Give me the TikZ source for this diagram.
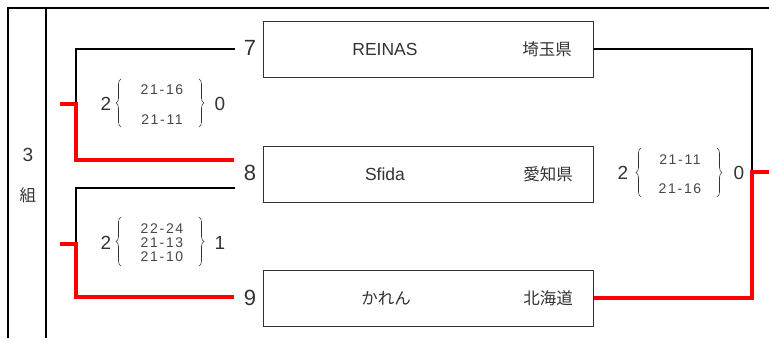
\documentclass[tikz,border=0pt]{standalone}
\usepackage{fontspec}
\setmainfont{Liberation Sans}
\newfontfamily\jpfont{Noto Sans CJK JP}
\newfontfamily\ptsfont[LetterSpace=12]{Liberation Sans}
\usepackage{xcolor}
\usetikzlibrary{positioning, decorations.pathreplacing}
\definecolor{winred}{HTML}{FF0000}
\definecolor{ink}{HTML}{333333}

\begin{document}
\begin{tikzpicture}[x=1pt, y=-1pt,
  team/.style={draw=ink, line width=1pt, minimum width=330pt, minimum height=56pt, inner sep=0pt},
  teamtxt/.style={text=ink, font=\fontsize{17.5}{18}\selectfont},
  preftxt/.style={text=ink, font=\jpfont\fontsize{16.5}{17}\selectfont},
  seedno/.style={text=ink, font=\fontsize{22}{22}\selectfont},
  setno/.style={text=ink, font=\fontsize{19}{19}\selectfont},
  ptsno/.style={text=ink!90, font=\ptsfont\fontsize{14}{14}\selectfont, inner sep=0pt},
  brc/.style={decorate, decoration={brace, amplitude=5pt}, draw=ink, line width=0.6pt},
  frameline/.style={line width=2pt},
  lose/.style={line width=2pt},
  win/.style={draw=winred, line width=4pt},
]
\useasboundingbox (0,0) rectangle (769,338);

\draw[frameline] (8,338) -- (8,8) -- (769,8);
\draw[frameline] (46,8) -- (46,338);
\node[setno] (grp) at (28,155) {3};
\node[preftxt] (kumi) at (28,195) {組};

\node[team] (b7) at (428,49) {};
\node[team] (b8) at (428,174.5) {};
\node[team] (b9) at (428,298) {};

\node[teamtxt] (t7) at (385,49) {REINAS};
\node[preftxt] (p7) at (547,49) {埼玉県};
\node[teamtxt] (t8) at (385,174) {Sfida};
\node[preftxt] (p8) at (548,174) {愛知県};
\node[preftxt] (t9) at (386,298) {かれん};
\node[preftxt] (p9) at (548,298) {北海道};

\node[seedno] (s7) at (250,48) {7};
\node[seedno] (s8) at (250,173) {8};
\node[seedno] (s9) at (250,298) {9};

\coordinate (e7) at (235,49);
\coordinate (e8a) at (234,160);
\coordinate (e8b) at (235,188);
\coordinate (e9) at (234,297);
\coordinate (j1) at (76,104);
\coordinate (j2) at (76,244);
\coordinate (j3) at (752,172);
\coordinate (w1) at (60,104);
\coordinate (w2) at (60,244);
\coordinate (w3) at (769,172);

\draw[lose] (e7) -| (j1);
\draw[win] (w1) -- (j1) |- (e8a);
\draw[lose] (e8b) -| (j2);
\draw[win] (w2) -- (j2) |- (e9);
\draw[lose] (b7.east) -| (j3);
\draw[win] (b9.east) -| (j3) -- (w3);

\node[setno] (l1) at (106,104) {2};
\node[ptsno] (l1a) at (162,90) {21-16};
\node[ptsno] (l1b) at (162,120) {21-11};
\node[setno] (r1) at (220,104) {0};
\draw[brc] (121,127) -- (121,79);
\draw[brc] (199,79) -- (199,127);

\node[setno] (l2) at (106,243) {2};
\node[ptsno] (l2a) at (162,229) {22-24};
\node[ptsno] (l2b) at (162,243) {21-13};
\node[ptsno] (l2c) at (162,257) {21-10};
\node[setno] (r2) at (220,243) {1};
\draw[brc] (121,266) -- (121,217);
\draw[brc] (199,217) -- (199,266);

\node[setno] (l3) at (623,173) {2};
\node[ptsno] (l3a) at (680,160) {21-11};
\node[ptsno] (l3b) at (680,189) {21-16};
\node[setno] (r3) at (739,173) {0};
\draw[brc] (641,197) -- (641,148);
\draw[brc] (717,148) -- (717,197);

\end{tikzpicture}
\end{document}
